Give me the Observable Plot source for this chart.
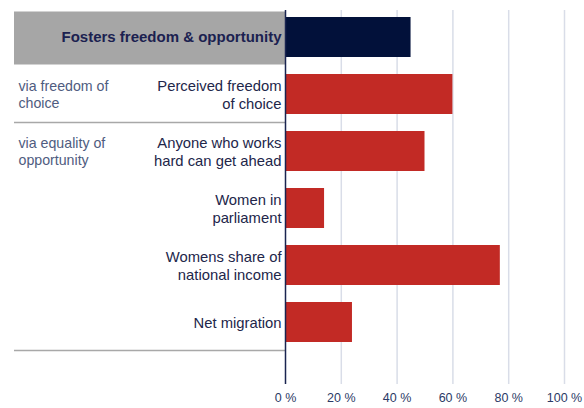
<!DOCTYPE html>
<html>
<head>
<meta charset="utf-8">
<script src="https://cdn.jsdelivr.net/npm/d3@7"></script>
<script src="https://cdn.jsdelivr.net/npm/@observablehq/plot@0.6"></script>
<style>
  body { margin: 0; background: #fff; }
  #chart { width: 584px; height: 408px; }
</style>
</head>
<body>
<div id="chart"></div>
<script>
const categories = [
  "Fosters freedom & opportunity",
  "Perceived freedom of choice",
  "Anyone who works hard can get ahead",
  "Women in parliament",
  "Womens share of national income",
  "Net migration"
];
const labels = [
  "Fosters freedom & opportunity",
  "Perceived freedom\nof choice",
  "Anyone who works\nhard can get ahead",
  "Women in\nparliament",
  "Womens share of\nnational income",
  "Net migration"
];
const values = [45, 60, 50, 14, 77, 24];
const kinds = ["total", "driver", "driver", "driver", "driver", "driver"];
const groupLabels = ["via freedom of\nchoice", "via equality of\nopportunity"];
const groupRows = ["Perceived freedom of choice", "Anyone who works hard can get ahead"];
const xTicks = [0, 20, 40, 60, 80, 100];

const rows = categories.map((c, i) => ({cat: c, label: labels[i], value: values[i], kind: kinds[i]}));
const groups = groupLabels.map((g, i) => ({cat: groupRows[i], label: g}));

const font = "'Liberation Sans', Arial, sans-serif";
const marginLeft = 285;

const plot = Plot.plot({
  width: 584,
  height: 408,
  marginLeft: marginLeft,
  marginRight: 20,
  marginTop: 10,
  marginBottom: 24,
  style: {fontFamily: font, background: "#fff"},
  x: {domain: [0, 100], label: null},
  y: {domain: categories, paddingInner: 0.3, paddingOuter: 0.425, align: 0.14, axis: null},
  color: {domain: ["total", "driver"], range: ["#02113a", "#c22a25"]},
  marks: [
    Plot.ruleX(xTicks.filter(d => d > 0), {stroke: "#d9dde8", strokeWidth: 1.5}),
    Plot.barX(rows, {y: "cat", x: "value", fill: "kind"}),
    Plot.ruleX([0], {stroke: "#1a2450", strokeWidth: 1.5}),
    Plot.text(rows.filter(d => d.kind === "total"), {
      y: "cat", x: 0, text: "label", dx: -4, textAnchor: "end",
      fontSize: 15, fontWeight: "bold", fill: "#1b2150"
    }),
    Plot.text(rows.filter(d => d.kind !== "total"), {
      y: "cat", x: 0, text: "label", dx: -4, textAnchor: "end",
      fontSize: 14.8, lineHeight: 1.16, fill: "#22264a"
    }),
    Plot.text(groups, {
      y: "cat", text: "label", frameAnchor: "left", dx: 18 - marginLeft, textAnchor: "start",
      fontSize: 14.2, lineHeight: 1.2, fill: "#4f5c80"
    }),
    Plot.axisX({ticks: xTicks, tickFormat: d => d + " %", tickSize: 0, tickPadding: 9, fontSize: 12.5, fill: "#2c3a66", label: null})
  ]
});

// Left-panel decoration: grey band behind the headline row and group separators, placed from the y scale.
const ys = plot.scale("y");
const bw = ys.bandwidth, step = ys.step, gap = (step - bw) / 2;
const svg = d3.select(plot);
const left = 14;
const firstY = ys.apply(categories[0]);
svg.insert("rect", "g")
  .attr("x", left).attr("y", firstY - gap + 3)
  .attr("width", marginLeft - left).attr("height", bw + 2 * gap - 4)
  .attr("fill", "#a6a6a6");
[1, categories.length - 1].forEach(i => {
  const yy = ys.apply(categories[i]) + bw + gap;
  svg.insert("line", "g")
    .attr("x1", left).attr("x2", marginLeft)
    .attr("y1", yy).attr("y2", yy)
    .attr("stroke", "#a8a8a8").attr("stroke-width", 1.5);
});

document.getElementById("chart").appendChild(plot);
</script>
</body>
</html>
